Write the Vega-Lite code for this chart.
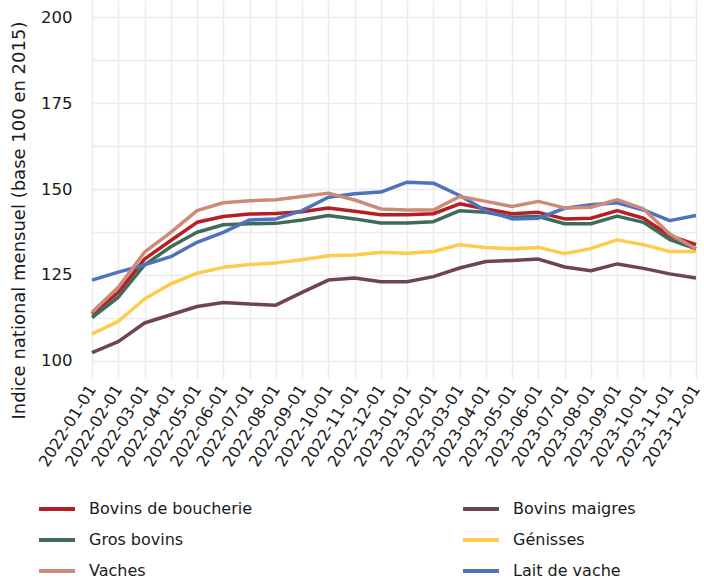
{
  "$schema": "https://vega.github.io/schema/vega-lite/v6.json",
  "autosize": "none",
  "width": 628,
  "height": 378,
  "padding": {"left": 76, "top": 0, "right": 0, "bottom": 205},
  "background": "white",
  "config": {
    "view": {"stroke": null},
    "font": "DejaVu Sans",
    "axis": {"labelFont": "DejaVu Sans", "titleFont": "DejaVu Sans", "labelColor": "#1a1a1a", "titleColor": "#1a1a1a"},
    "legend": {"labelFont": "DejaVu Sans"}
  },
  "data": {
    "values": [
      {"mois": "2022-01-01", "serie": "Bovins de boucherie", "indice": 113.6},
      {"mois": "2022-02-01", "serie": "Bovins de boucherie", "indice": 119.9},
      {"mois": "2022-03-01", "serie": "Bovins de boucherie", "indice": 129.6},
      {"mois": "2022-04-01", "serie": "Bovins de boucherie", "indice": 135.0},
      {"mois": "2022-05-01", "serie": "Bovins de boucherie", "indice": 140.3},
      {"mois": "2022-06-01", "serie": "Bovins de boucherie", "indice": 142.0},
      {"mois": "2022-07-01", "serie": "Bovins de boucherie", "indice": 142.7},
      {"mois": "2022-08-01", "serie": "Bovins de boucherie", "indice": 142.9},
      {"mois": "2022-09-01", "serie": "Bovins de boucherie", "indice": 143.4},
      {"mois": "2022-10-01", "serie": "Bovins de boucherie", "indice": 144.5},
      {"mois": "2022-11-01", "serie": "Bovins de boucherie", "indice": 143.5},
      {"mois": "2022-12-01", "serie": "Bovins de boucherie", "indice": 142.5},
      {"mois": "2023-01-01", "serie": "Bovins de boucherie", "indice": 142.5},
      {"mois": "2023-02-01", "serie": "Bovins de boucherie", "indice": 142.8},
      {"mois": "2023-03-01", "serie": "Bovins de boucherie", "indice": 145.7},
      {"mois": "2023-04-01", "serie": "Bovins de boucherie", "indice": 144.2},
      {"mois": "2023-05-01", "serie": "Bovins de boucherie", "indice": 142.8},
      {"mois": "2023-06-01", "serie": "Bovins de boucherie", "indice": 143.2},
      {"mois": "2023-07-01", "serie": "Bovins de boucherie", "indice": 141.3},
      {"mois": "2023-08-01", "serie": "Bovins de boucherie", "indice": 141.5},
      {"mois": "2023-09-01", "serie": "Bovins de boucherie", "indice": 143.7},
      {"mois": "2023-10-01", "serie": "Bovins de boucherie", "indice": 141.5},
      {"mois": "2023-11-01", "serie": "Bovins de boucherie", "indice": 136.4},
      {"mois": "2023-12-01", "serie": "Bovins de boucherie", "indice": 133.8},
      {"mois": "2022-01-01", "serie": "Bovins maigres", "indice": 102.4},
      {"mois": "2022-02-01", "serie": "Bovins maigres", "indice": 105.6},
      {"mois": "2022-03-01", "serie": "Bovins maigres", "indice": 111.0},
      {"mois": "2022-04-01", "serie": "Bovins maigres", "indice": 113.4},
      {"mois": "2022-05-01", "serie": "Bovins maigres", "indice": 115.8},
      {"mois": "2022-06-01", "serie": "Bovins maigres", "indice": 117.0},
      {"mois": "2022-07-01", "serie": "Bovins maigres", "indice": 116.5},
      {"mois": "2022-08-01", "serie": "Bovins maigres", "indice": 116.2},
      {"mois": "2022-09-01", "serie": "Bovins maigres", "indice": 119.9},
      {"mois": "2022-10-01", "serie": "Bovins maigres", "indice": 123.5},
      {"mois": "2022-11-01", "serie": "Bovins maigres", "indice": 124.1},
      {"mois": "2022-12-01", "serie": "Bovins maigres", "indice": 123.0},
      {"mois": "2023-01-01", "serie": "Bovins maigres", "indice": 123.0},
      {"mois": "2023-02-01", "serie": "Bovins maigres", "indice": 124.5},
      {"mois": "2023-03-01", "serie": "Bovins maigres", "indice": 127.0},
      {"mois": "2023-04-01", "serie": "Bovins maigres", "indice": 128.9},
      {"mois": "2023-05-01", "serie": "Bovins maigres", "indice": 129.2},
      {"mois": "2023-06-01", "serie": "Bovins maigres", "indice": 129.6},
      {"mois": "2023-07-01", "serie": "Bovins maigres", "indice": 127.3},
      {"mois": "2023-08-01", "serie": "Bovins maigres", "indice": 126.2},
      {"mois": "2023-09-01", "serie": "Bovins maigres", "indice": 128.2},
      {"mois": "2023-10-01", "serie": "Bovins maigres", "indice": 126.9},
      {"mois": "2023-11-01", "serie": "Bovins maigres", "indice": 125.3},
      {"mois": "2023-12-01", "serie": "Bovins maigres", "indice": 124.1},
      {"mois": "2022-01-01", "serie": "Génisses", "indice": 107.8},
      {"mois": "2022-02-01", "serie": "Génisses", "indice": 111.5},
      {"mois": "2022-03-01", "serie": "Génisses", "indice": 118.0},
      {"mois": "2022-04-01", "serie": "Génisses", "indice": 122.4},
      {"mois": "2022-05-01", "serie": "Génisses", "indice": 125.5},
      {"mois": "2022-06-01", "serie": "Génisses", "indice": 127.2},
      {"mois": "2022-07-01", "serie": "Génisses", "indice": 128.0},
      {"mois": "2022-08-01", "serie": "Génisses", "indice": 128.5},
      {"mois": "2022-09-01", "serie": "Génisses", "indice": 129.4},
      {"mois": "2022-10-01", "serie": "Génisses", "indice": 130.6},
      {"mois": "2022-11-01", "serie": "Génisses", "indice": 130.8},
      {"mois": "2022-12-01", "serie": "Génisses", "indice": 131.6},
      {"mois": "2023-01-01", "serie": "Génisses", "indice": 131.3},
      {"mois": "2023-02-01", "serie": "Génisses", "indice": 131.8},
      {"mois": "2023-03-01", "serie": "Génisses", "indice": 133.8},
      {"mois": "2023-04-01", "serie": "Génisses", "indice": 133.0},
      {"mois": "2023-05-01", "serie": "Génisses", "indice": 132.6},
      {"mois": "2023-06-01", "serie": "Génisses", "indice": 133.0},
      {"mois": "2023-07-01", "serie": "Génisses", "indice": 131.2},
      {"mois": "2023-08-01", "serie": "Génisses", "indice": 132.7},
      {"mois": "2023-09-01", "serie": "Génisses", "indice": 135.2},
      {"mois": "2023-10-01", "serie": "Génisses", "indice": 133.8},
      {"mois": "2023-11-01", "serie": "Génisses", "indice": 131.8},
      {"mois": "2023-12-01", "serie": "Génisses", "indice": 131.8},
      {"mois": "2022-01-01", "serie": "Gros bovins", "indice": 112.6},
      {"mois": "2022-02-01", "serie": "Gros bovins", "indice": 118.5},
      {"mois": "2022-03-01", "serie": "Gros bovins", "indice": 127.9},
      {"mois": "2022-04-01", "serie": "Gros bovins", "indice": 133.2},
      {"mois": "2022-05-01", "serie": "Gros bovins", "indice": 137.4},
      {"mois": "2022-06-01", "serie": "Gros bovins", "indice": 139.6},
      {"mois": "2022-07-01", "serie": "Gros bovins", "indice": 139.9},
      {"mois": "2022-08-01", "serie": "Gros bovins", "indice": 140.0},
      {"mois": "2022-09-01", "serie": "Gros bovins", "indice": 141.0},
      {"mois": "2022-10-01", "serie": "Gros bovins", "indice": 142.3},
      {"mois": "2022-11-01", "serie": "Gros bovins", "indice": 141.3},
      {"mois": "2022-12-01", "serie": "Gros bovins", "indice": 140.1},
      {"mois": "2023-01-01", "serie": "Gros bovins", "indice": 140.1},
      {"mois": "2023-02-01", "serie": "Gros bovins", "indice": 140.5},
      {"mois": "2023-03-01", "serie": "Gros bovins", "indice": 143.7},
      {"mois": "2023-04-01", "serie": "Gros bovins", "indice": 143.2},
      {"mois": "2023-05-01", "serie": "Gros bovins", "indice": 141.8},
      {"mois": "2023-06-01", "serie": "Gros bovins", "indice": 142.0},
      {"mois": "2023-07-01", "serie": "Gros bovins", "indice": 139.9},
      {"mois": "2023-08-01", "serie": "Gros bovins", "indice": 139.9},
      {"mois": "2023-09-01", "serie": "Gros bovins", "indice": 142.1},
      {"mois": "2023-10-01", "serie": "Gros bovins", "indice": 140.3},
      {"mois": "2023-11-01", "serie": "Gros bovins", "indice": 135.3},
      {"mois": "2023-12-01", "serie": "Gros bovins", "indice": 132.6},
      {"mois": "2022-01-01", "serie": "Lait de vache", "indice": 123.5},
      {"mois": "2022-02-01", "serie": "Lait de vache", "indice": 125.8},
      {"mois": "2022-03-01", "serie": "Lait de vache", "indice": 127.9},
      {"mois": "2022-04-01", "serie": "Lait de vache", "indice": 130.3},
      {"mois": "2022-05-01", "serie": "Lait de vache", "indice": 134.5},
      {"mois": "2022-06-01", "serie": "Lait de vache", "indice": 137.4},
      {"mois": "2022-07-01", "serie": "Lait de vache", "indice": 141.0},
      {"mois": "2022-08-01", "serie": "Lait de vache", "indice": 141.3},
      {"mois": "2022-09-01", "serie": "Lait de vache", "indice": 143.7},
      {"mois": "2022-10-01", "serie": "Lait de vache", "indice": 147.6},
      {"mois": "2022-11-01", "serie": "Lait de vache", "indice": 148.6},
      {"mois": "2022-12-01", "serie": "Lait de vache", "indice": 149.1},
      {"mois": "2023-01-01", "serie": "Lait de vache", "indice": 152.0},
      {"mois": "2023-02-01", "serie": "Lait de vache", "indice": 151.7},
      {"mois": "2023-03-01", "serie": "Lait de vache", "indice": 148.1},
      {"mois": "2023-04-01", "serie": "Lait de vache", "indice": 143.7},
      {"mois": "2023-05-01", "serie": "Lait de vache", "indice": 141.3},
      {"mois": "2023-06-01", "serie": "Lait de vache", "indice": 141.5},
      {"mois": "2023-07-01", "serie": "Lait de vache", "indice": 144.4},
      {"mois": "2023-08-01", "serie": "Lait de vache", "indice": 145.4},
      {"mois": "2023-09-01", "serie": "Lait de vache", "indice": 146.0},
      {"mois": "2023-10-01", "serie": "Lait de vache", "indice": 143.9},
      {"mois": "2023-11-01", "serie": "Lait de vache", "indice": 140.8},
      {"mois": "2023-12-01", "serie": "Lait de vache", "indice": 142.3},
      {"mois": "2022-01-01", "serie": "Vaches", "indice": 114.1},
      {"mois": "2022-02-01", "serie": "Vaches", "indice": 121.4},
      {"mois": "2022-03-01", "serie": "Vaches", "indice": 131.6},
      {"mois": "2022-04-01", "serie": "Vaches", "indice": 137.4},
      {"mois": "2022-05-01", "serie": "Vaches", "indice": 143.7},
      {"mois": "2022-06-01", "serie": "Vaches", "indice": 146.0},
      {"mois": "2022-07-01", "serie": "Vaches", "indice": 146.6},
      {"mois": "2022-08-01", "serie": "Vaches", "indice": 146.9},
      {"mois": "2022-09-01", "serie": "Vaches", "indice": 147.8},
      {"mois": "2022-10-01", "serie": "Vaches", "indice": 148.8},
      {"mois": "2022-11-01", "serie": "Vaches", "indice": 146.8},
      {"mois": "2022-12-01", "serie": "Vaches", "indice": 144.2},
      {"mois": "2023-01-01", "serie": "Vaches", "indice": 143.9},
      {"mois": "2023-02-01", "serie": "Vaches", "indice": 143.9},
      {"mois": "2023-03-01", "serie": "Vaches", "indice": 147.8},
      {"mois": "2023-04-01", "serie": "Vaches", "indice": 146.4},
      {"mois": "2023-05-01", "serie": "Vaches", "indice": 144.9},
      {"mois": "2023-06-01", "serie": "Vaches", "indice": 146.4},
      {"mois": "2023-07-01", "serie": "Vaches", "indice": 144.5},
      {"mois": "2023-08-01", "serie": "Vaches", "indice": 144.7},
      {"mois": "2023-09-01", "serie": "Vaches", "indice": 146.9},
      {"mois": "2023-10-01", "serie": "Vaches", "indice": 144.2},
      {"mois": "2023-11-01", "serie": "Vaches", "indice": 136.9},
      {"mois": "2023-12-01", "serie": "Vaches", "indice": 132.6}
    ]
  },
  "mark": {"type": "line", "strokeWidth": 3.5, "strokeJoin": "round", "strokeCap": "butt"},
  "encoding": {
    "x": {
      "field": "mois",
      "type": "ordinal",
      "scale": {"type": "point", "range": [16, 620], "padding": 0},
      "axis": {
        "title": null,
        "domain": false,
        "ticks": false,
        "grid": true,
        "gridColor": "#EBEBEB",
        "gridWidth": 1.5,
        "labelAngle": -58,
        "labelAlign": "right",
        "labelBaseline": "middle",
        "labelFontSize": 16,
        "labelPadding": 8,
        "labelOverlap": false
      }
    },
    "y": {
      "field": "indice",
      "type": "quantitative",
      "scale": {"domain": [95, 205], "nice": false, "zero": false},
      "axis": {
        "title": "Indice national mensuel (base 100 en 2015)",
        "values": [100, 112.5, 125, 137.5, 150, 162.5, 175, 187.5, 200],
        "labelExpr": "datum.value % 25 == 0 ? datum.label : ''",
        "domain": false,
        "ticks": false,
        "grid": true,
        "gridColor": "#EBEBEB",
        "gridWidth": 1.5,
        "labelFontSize": 16.5,
        "labelPadding": 4,
        "titleFontSize": 18,
        "titleFontWeight": "normal",
        "titleAngle": -90,
        "titleX": -57,
        "titleY": 220,
        "titleAlign": "center",
        "titleBaseline": "middle"
      }
    },
    "color": {
      "field": "serie",
      "type": "nominal",
      "scale": {
        "domain": ["Bovins de boucherie", "Gros bovins", "Vaches", "Bovins maigres", "Génisses", "Lait de vache"],
        "range": ["#B51F24", "#3F6B5B", "#CD8A78", "#6E4452", "#FECC4D", "#4F72BF"]
      },
      "legend": {
        "title": null,
        "orient": "none",
        "legendX": -39,
        "legendY": 489,
        "direction": "vertical",
        "columns": 2,
        "symbolType": "stroke",
        "symbolSize": 1296,
        "symbolStrokeWidth": 4,
        "labelFontSize": 16,
        "labelLimit": 400,
        "labelColor": "#1a1a1a",
        "labelOffset": 12,
        "rowPadding": 3,
        "columnPadding": 202,
        "padding": 0
      }
    }
  }
}
